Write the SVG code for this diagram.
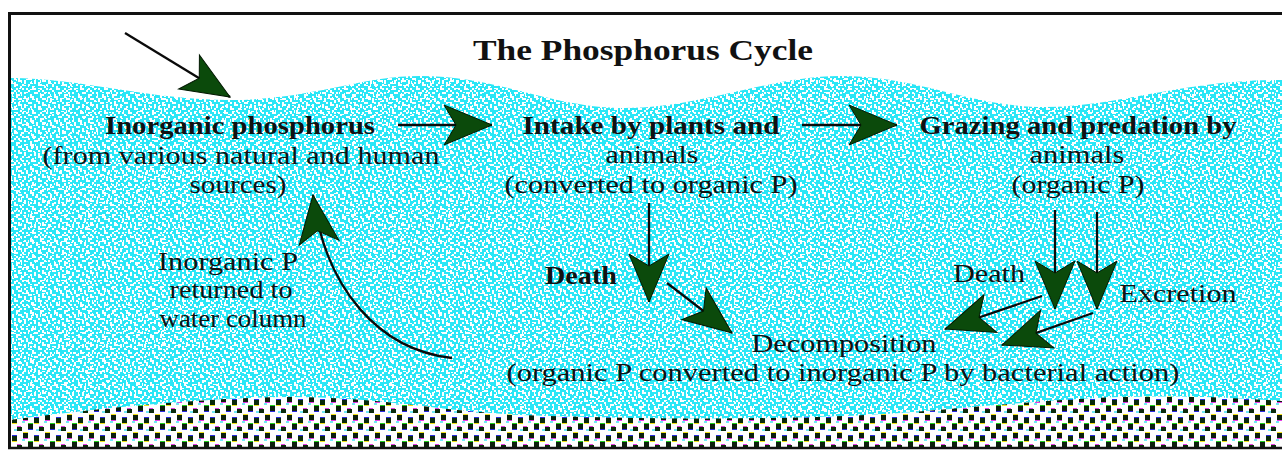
<svg xmlns="http://www.w3.org/2000/svg" width="1282" height="453" viewBox="0 0 1282 453">
<style>
.t{font-family:"Liberation Serif","Times New Roman",serif;font-size:25px;fill:#111;text-anchor:middle}
.b{font-weight:bold}
.ttl{font-size:30px;font-weight:bold}
.shaft{fill:none;stroke:#0a0a0a;stroke-width:2.3}
</style>
<defs>
<pattern id="water" width="24" height="24" patternUnits="userSpaceOnUse">
<rect width="24" height="24" fill="#2ae6f6"/>
<path fill="#fff" shape-rendering="crispEdges" d="M0 0h2v2h-2z M6 0h4v2h-4z M16 0h2v2h-2z M2 2h2v2h-2z M8 2h2v2h-2z M12 2h2v2h-2z M18 2h4v2h-4z M2 4h2v2h-2z M12 4h2v2h-2z M22 4h2v2h-2z M4 6h4v2h-4z M14 6h2v2h-2z M18 6h2v2h-2z M0 8h2v2h-2z M10 8h2v2h-2z M18 8h4v2h-4z M0 10h2v2h-2z M6 10h2v2h-2z M10 10h2v2h-2z M14 10h2v2h-2z M4 12h2v2h-2z M14 12h4v2h-4z M22 12h2v2h-2z M8 14h2v2h-2z M20 14h2v2h-2z M2 16h2v2h-2z M8 16h4v2h-4z M16 16h2v2h-2z M22 16h2v2h-2z M4 18h2v2h-2z M14 18h2v2h-2z M18 18h2v2h-2z M0 20h2v2h-2z M10 20h4v2h-4z M20 20h2v2h-2z M6 22h2v2h-2z M16 22h4v2h-4z"/>
</pattern>
<pattern id="water2" width="19" height="13" patternUnits="userSpaceOnUse">
<path fill="#fff" shape-rendering="crispEdges" d="M2 2h1v3h-1z M7 1h2v1h-2z M12 3h1v2h1v1h-2z M4 7h3v1h-3z M14 8h2v1h-2z M9 6h1v3h-1z M0 10h2v1h-2z M16 1h1v2h-1z M11 11h2v1h-2z"/>
</pattern>
<pattern id="sed" width="22" height="18" patternUnits="userSpaceOnUse">
<rect width="22" height="18" fill="#ffffff"/>
<rect x="0" y="7" width="3" height="2" fill="#6fe8f5"/>
<rect x="14" y="15" width="5" height="2" fill="#6fe8f5"/>
<rect x="1" y="0" width="5" height="1" fill="#f2e21c"/>
<rect x="1" y="1" width="5" height="5" fill="#0c1f0c"/>
<rect x="1" y="6" width="5" height="1" fill="#e53ee5"/>
<rect x="12" y="3" width="5" height="1" fill="#2b2be0"/>
<rect x="12" y="4" width="5" height="5" fill="#0a2a0a"/>
<rect x="12" y="9" width="5" height="1" fill="#f2e21c"/>
<rect x="6" y="9" width="5" height="1" fill="#1fd01f"/>
<rect x="6" y="10" width="5" height="5" fill="#0c1f0c"/>
<rect x="6" y="15" width="5" height="1" fill="#2b2be0"/>
<rect x="17" y="12" width="4" height="1" fill="#e53ee5"/>
<rect x="17" y="13" width="5" height="4" fill="#0a2a0a"/>
</pattern>
<marker id="ah" markerUnits="userSpaceOnUse" viewBox="-50 -22 52 44" refX="0" refY="0" markerWidth="52" markerHeight="44" orient="auto" overflow="visible">
<path d="M0,0 L-48,-20 L-36,0 L-48,20 Z" fill="#0b4a0b" stroke="#021802" stroke-width="1"/>
</marker>
</defs>
<rect width="1282" height="453" fill="#fff"/>
<g id="water-body">
<path d="M10,78 C80,78 150,100 230,100 C310,100 360,76 420,76 C500,76 550,108 625,108 C700,108 770,76 840,76 C920,76 970,107 1045,107 C1120,107 1180,80 1282,80 L1282,447 L10,447 Z" fill="url(#water)"/>
<path d="M10,78 C80,78 150,100 230,100 C310,100 360,76 420,76 C500,76 550,108 625,108 C700,108 770,76 840,76 C920,76 970,107 1045,107 C1120,107 1180,80 1282,80 L1282,447 L10,447 Z" fill="url(#water2)"/>
</g>
<g id="sediment">
<path d="M10,420 C100,408 200,398 290,397 C380,397 430,410 520,415 C650,420 800,420 900,413 C980,407 1040,400 1120,397 C1200,395 1250,399 1282,401 L1282,447 L10,447 Z" fill="url(#sed)"/>
</g>
<g id="frame" fill="none" stroke="#111">
<path d="M8,13.5 H1282" stroke-width="3"/>
<path d="M9.5,12 V449" stroke-width="3"/>
<path d="M8,448 H1282" stroke-width="2.5"/>
</g>
<g id="title"><text class="t ttl" x="643" y="60" textLength="340" lengthAdjust="spacingAndGlyphs">The Phosphorus Cycle</text></g>
<g id="node-inorganic-phosphorus">
<text class="t b" x="240" y="134" textLength="270" lengthAdjust="spacingAndGlyphs">Inorganic phosphorus</text>
<text class="t" x="241" y="164" textLength="397" lengthAdjust="spacingAndGlyphs">(from various natural and human</text>
<text class="t" x="238" y="193" textLength="97" lengthAdjust="spacingAndGlyphs">sources)</text>
</g>
<g id="node-intake">
<text class="t b" x="651" y="134" textLength="257" lengthAdjust="spacingAndGlyphs">Intake by plants and</text>
<text class="t" x="652" y="163" textLength="93" lengthAdjust="spacingAndGlyphs">animals</text>
<text class="t" x="651" y="193" textLength="293" lengthAdjust="spacingAndGlyphs">(converted to organic P)</text>
</g>
<g id="node-grazing">
<text class="t b" x="1078" y="134" textLength="317" lengthAdjust="spacingAndGlyphs">Grazing and predation by</text>
<text class="t" x="1077" y="163" textLength="95" lengthAdjust="spacingAndGlyphs">animals</text>
<text class="t" x="1078" y="193" textLength="133" lengthAdjust="spacingAndGlyphs">(organic P)</text>
</g>
<g id="node-decomposition">
<text class="t" x="844" y="352" textLength="185" lengthAdjust="spacingAndGlyphs">Decomposition</text>
<text class="t" x="843" y="381" textLength="673" lengthAdjust="spacingAndGlyphs">(organic P converted to inorganic P by bacterial action)</text>
</g>
<g id="connectors">
<path class="shaft" d="M125,33 L230,97" marker-end="url(#ah)"/>
<path class="shaft" d="M398,125 L492,125" marker-end="url(#ah)"/>
<path class="shaft" d="M802,125 L897,125" marker-end="url(#ah)"/>
<path class="shaft" d="M649,203 L649,302" marker-end="url(#ah)"/>
<path class="shaft" d="M667,283 L732,333" marker-end="url(#ah)"/>
<path class="shaft" d="M1055,210 L1055,309" marker-end="url(#ah)"/>
<path class="shaft" d="M1097,212 L1097,309" marker-end="url(#ah)"/>
<path class="shaft" d="M1042,296 L945,329" marker-end="url(#ah)"/>
<path class="shaft" d="M1093,313 L1002,345" marker-end="url(#ah)"/>
<path class="shaft" d="M452,358 C380,350 325,290 313,195" marker-end="url(#ah)"/>
</g>
<g id="connector-labels">
<text class="t b" x="581" y="284" textLength="72" lengthAdjust="spacingAndGlyphs">Death</text>
<text class="t" x="989" y="282" textLength="72" lengthAdjust="spacingAndGlyphs">Death</text>
<text class="t" x="1178" y="302" textLength="117" lengthAdjust="spacingAndGlyphs">Excretion</text>
<text class="t" x="228" y="270" textLength="140" lengthAdjust="spacingAndGlyphs">Inorganic P</text>
<text class="t" x="231" y="298" textLength="123" lengthAdjust="spacingAndGlyphs">returned to</text>
<text class="t" x="233" y="327" textLength="147" lengthAdjust="spacingAndGlyphs">water column</text>
</g>
</svg>
